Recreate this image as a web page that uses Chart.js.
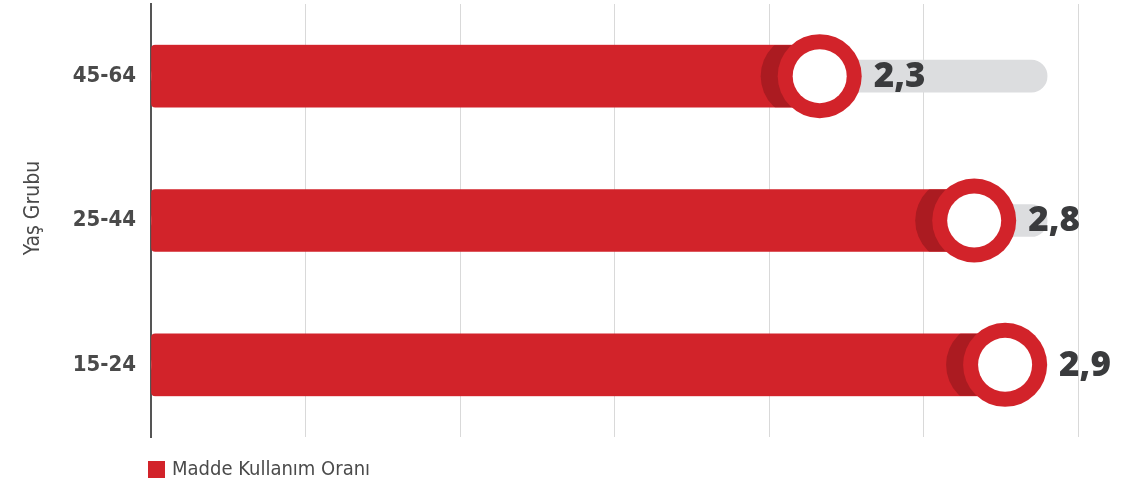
<!DOCTYPE html>
<html>
<head>
<meta charset="utf-8">
<script src="https://cdn.jsdelivr.net/npm/chart.js@4"></script>
<style>
    body { margin: 0; background: #fff; }
    #wrap { width: 1134px; height: 488px; position: relative; }
</style>
</head>
<body>
<div id="wrap"><canvas id="chart"></canvas></div>
<script>
// Chart data
const categories = ['45-64', '25-44', '15-24'];
const usageRates = [2.3, 2.8, 2.9];
const trackValues = [2.9, 2.9, 2.9];
const seriesName = 'Madde Kullanım Oranı';
const axisTitle = 'Yaş Grubu';
const xMin = 0, xMax = 3, xStep = 0.5;

const colors = {
    red: '#d2232a',
    darkRed: '#ab1b21',
    track: '#dcdddf',
    grid: '#d9d9d9',
    axis: '#555555',
    text: '#4a4a4a',
    value: '#3a3b3d'
};

const condensed = "'Liberation Sans Narrow', 'DejaVu Sans Condensed', sans-serif";
const ringRadius = 42;

// Cut the red bars off at the ring centre
const clipPlugin = {
    id: 'barClip',
    beforeDatasetDraw(chart, args) {
        if (args.index !== 0) return;
        const ctx = chart.ctx;
        const left = chart.chartArea.left;
        ctx.save();
        ctx.beginPath();
        args.meta.data.forEach(function (bar) {
            ctx.rect(left - 2, bar.y - bar.height / 2 - 1, bar.x - ringRadius - left + 2, bar.height + 2);
        });
        ctx.clip();
    },
    afterDatasetDraw(chart, args) {
        if (args.index !== 0) return;
        chart.ctx.restore();
    }
};

// Rings, shadows and value labels at the bar ends
const ringPlugin = {
    id: 'rings',
    afterDatasetsDraw(chart) {
        const ctx = chart.ctx;
        const meta = chart.getDatasetMeta(0);
        meta.data.forEach(function (bar, i) {
            const r = ringRadius;
            const cx = bar.x - r;
            const cy = bar.y;
            const h = bar.height;

            ctx.save();
            ctx.beginPath();
            ctx.rect(bar.base, cy - h / 2, cx - bar.base, h);
            ctx.clip();
            ctx.fillStyle = colors.darkRed;
            ctx.beginPath();
            ctx.arc(cx - 17, cy, r, 0, Math.PI * 2);
            ctx.fill();
            ctx.restore();

            ctx.fillStyle = colors.red;
            ctx.beginPath();
            ctx.arc(cx, cy, r, 0, Math.PI * 2);
            ctx.fill();
            ctx.fillStyle = '#ffffff';
            ctx.beginPath();
            ctx.arc(cx, cy, 27, 0, Math.PI * 2);
            ctx.fill();

            const label = usageRates[i].toFixed(1).replace('.', ',');
            ctx.fillStyle = colors.value;
            ctx.font = "800 35px 'Open Sans', sans-serif";
            ctx.textAlign = 'left';
            ctx.textBaseline = 'middle';
            ctx.fillText(label, bar.x + 12, cy + 1);
        });
    }
};

// Axis title and legend
const textPlugin = {
    id: 'sideText',
    afterDraw(chart) {
        const ctx = chart.ctx;
        ctx.save();
        ctx.fillStyle = colors.text;
        ctx.font = '21px ' + condensed;
        ctx.textAlign = 'center';
        ctx.textBaseline = 'middle';
        ctx.translate(34, 208);
        ctx.rotate(-Math.PI / 2);
        ctx.fillText(axisTitle, 0, 0);
        ctx.restore();

        const x = chart.chartArea.left - 3;
        const y = chart.chartArea.bottom + 32;
        ctx.save();
        ctx.fillStyle = colors.red;
        ctx.fillRect(x, y - 8, 17, 17);
        ctx.fillStyle = colors.text;
        ctx.font = '20px ' + condensed;
        ctx.textAlign = 'left';
        ctx.textBaseline = 'middle';
        ctx.fillText(seriesName, x + 24, y + 1);
        ctx.restore();
    }
};

const ctx = document.getElementById('chart');
new Chart(ctx, {
    type: 'bar',
    data: {
        labels: categories,
        datasets: [
            {
                label: seriesName,
                data: usageRates,
                backgroundColor: colors.red,
                barThickness: 62,
                borderRadius: { topLeft: 4, bottomLeft: 4, topRight: 0, bottomRight: 0 },
                borderSkipped: false,
                grouped: false,
                order: 0
            },
            {
                label: 'track',
                data: trackValues,
                backgroundColor: colors.track,
                barThickness: 32,
                borderRadius: 16,
                borderSkipped: false,
                grouped: false,
                order: 1
            }
        ]
    },
    options: {
        indexAxis: 'y',
        responsive: true,
        maintainAspectRatio: false,
        animation: false,
        layout: { padding: { top: 4, right: 56, bottom: 51, left: 0 } },
        plugins: {
            legend: { display: false },
            tooltip: { enabled: false }
        },
        scales: {
            x: {
                min: xMin,
                max: xMax,
                ticks: { display: false, stepSize: xStep },
                grid: { color: colors.grid, lineWidth: 1, drawTicks: false },
                border: { display: false },
                afterFit: function (scale) { scale.height = 0; }
            },
            y: {
                ticks: {
                    color: colors.text,
                    padding: 15,
                    font: { family: condensed, size: 22, weight: 'bold' }
                },
                grid: { display: false, drawTicks: false },
                border: { display: true, color: colors.axis, width: 2 },
                afterFit: function (scale) {
                    scale.width = 151;
                    scale.paddingTop = 0;
                    scale.paddingBottom = 0;
                }
            }
        }
    },
    plugins: [clipPlugin, ringPlugin, textPlugin]
});
</script>
</body>
</html>
